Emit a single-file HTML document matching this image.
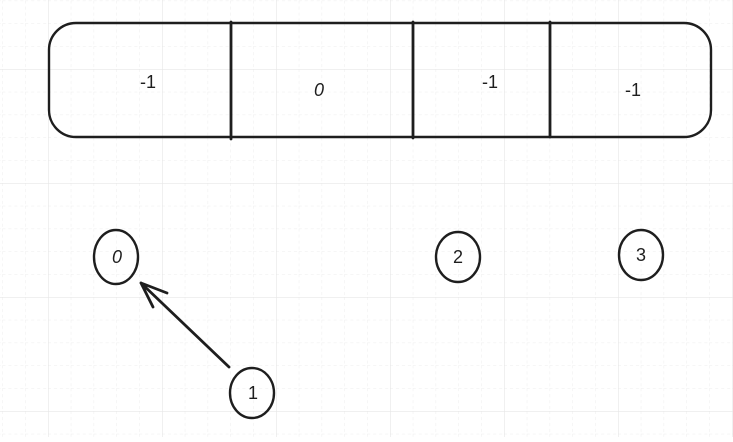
<!DOCTYPE html>
<html><head><style>body{margin:0;background:#fff}</style></head><body>
<svg width="733" height="437" xmlns="http://www.w3.org/2000/svg">
<defs>
<pattern id="s" x="48" y="69" width="22.8" height="22.8" patternUnits="userSpaceOnUse">
<path d="M0 0V22.8M0 0H22.8" stroke="#ececec" stroke-width="1" stroke-dasharray="3 3" fill="none"/>
</pattern>
<pattern id="b" x="48" y="69" width="114" height="114" patternUnits="userSpaceOnUse">
<path d="M0 0V114M0 0H114" stroke="#e6e6e6" stroke-width="1.2" fill="none"/>
</pattern>
</defs>
<rect width="733" height="437" fill="url(#s)"/>
<rect width="733" height="437" fill="url(#b)"/>
<g stroke="#1e1e1e" fill="none" stroke-width="2.4" stroke-linecap="round">
<rect x="49" y="23" width="662" height="114" rx="27"/>
<path d="M231 22V139M413 22V138M550 22V137" stroke-width="2.8"/>
<ellipse cx="116" cy="257" rx="22" ry="27"/>
<ellipse cx="458" cy="257" rx="22" ry="25"/>
<ellipse cx="641" cy="255" rx="22" ry="25"/>
<ellipse cx="252" cy="393" rx="22" ry="25"/>
<path d="M229 367L141 283M141 283L167 293M141 283L153 307" stroke-width="2.8"/>
</g>
<g font-family="Liberation Sans, sans-serif" font-size="18" fill="#1e1e1e" text-anchor="middle">
<text x="148" y="88">-1</text>
<text x="319" y="96" font-style="italic">0</text>
<text x="490" y="88">-1</text>
<text x="633" y="96">-1</text>
<text x="117" y="263" font-style="italic">0</text>
<text x="458" y="263">2</text>
<text x="641" y="261">3</text>
<text x="253" y="399">1</text>
</g>
</svg>
</body></html>
